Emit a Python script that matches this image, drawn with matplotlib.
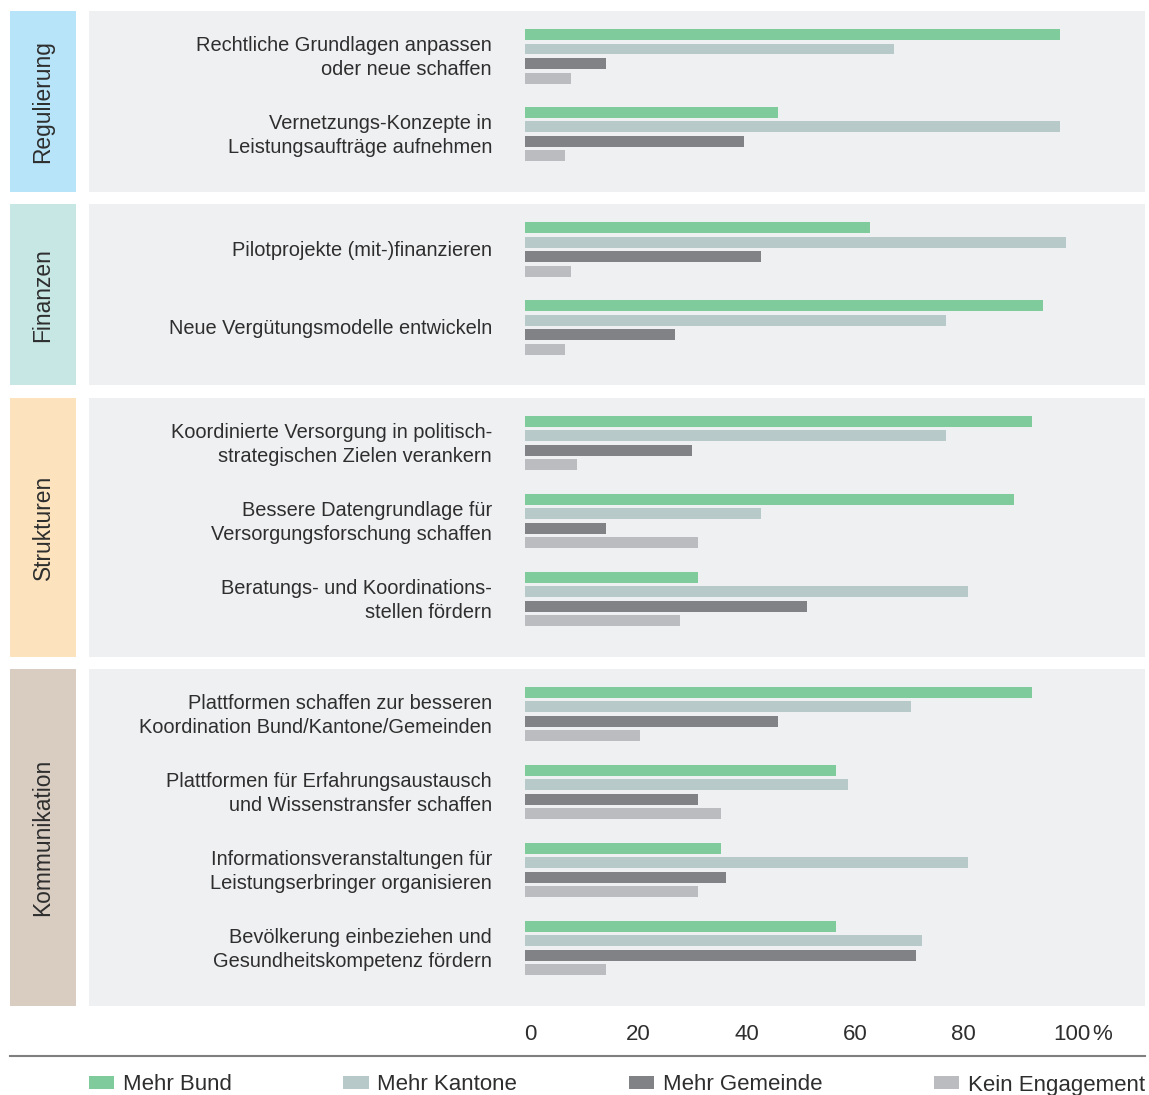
import matplotlib
matplotlib.use("Agg")
import matplotlib.pyplot as plt
from matplotlib.patches import Patch
from matplotlib.lines import Line2D

plt.rcParams["font.family"] = ["Liberation Sans", "DejaVu Sans"]
plt.rcParams["text.color"] = "#2e2e2e"

# Kategorien und Massnahmen
groups = ["Regulierung", "Finanzen", "Strukturen", "Kommunikation"]
group_colors = ["#b8e4f9", "#c6e7e3", "#fde3bd", "#d9cdc2"]

measures = [
    "Rechtliche Grundlagen anpassen\noder neue schaffen",
    "Vernetzungs-Konzepte in\nLeistungsaufträge aufnehmen",
    "Pilotprojekte (mit-)finanzieren",
    "Neue Vergütungsmodelle entwickeln",
    "Koordinierte Versorgung in politisch-\nstrategischen Zielen verankern",
    "Bessere Datengrundlage für\nVersorgungsforschung schaffen",
    "Beratungs- und Koordinations-\nstellen fördern",
    "Plattformen schaffen zur besseren\nKoordination Bund/Kantone/Gemeinden",
    "Plattformen für Erfahrungsaustausch\nund Wissenstransfer schaffen",
    "Informationsveranstaltungen für\nLeistungserbringer organisieren",
    "Bevölkerung einbeziehen und\nGesundheitskompetenz fördern",
]
measure_group = [0, 0, 1, 1, 2, 2, 2, 3, 3, 3, 3]

# Anteile in %
mehr_bund = [98.9, 46.8, 63.8, 95.7, 93.6, 90.4, 31.9, 93.6, 57.4, 36.2, 57.4]
mehr_kantone = [68.1, 98.9, 100.0, 77.7, 77.7, 43.6, 81.9, 71.3, 59.6, 81.9, 73.4]
mehr_gemeinde = [14.9, 40.4, 43.6, 27.7, 30.9, 14.9, 52.1, 46.8, 31.9, 37.2, 72.3]
kein_engagement = [8.5, 7.4, 8.5, 7.4, 9.6, 31.9, 28.7, 21.3, 36.2, 31.9, 14.9]

series_names = ["Mehr Bund", "Mehr Kantone", "Mehr Gemeinde", "Kein Engagement"]
series_colors = ["#80cb9b", "#b7c9c9", "#818285", "#bbbcc0"]
series_values = [mehr_bund, mehr_kantone, mehr_gemeinde, kein_engagement]

tick_values = [0, 20, 40, 60, 80, 100]
tick_labels = ["0", "20", "40", "60", "80", "100"]

# Layout in Pixeln
W, H = 1149, 1095
ZERO_X = 525
PX_PER_PCT = 5.414
PANEL_X0, PANEL_X1 = 89, 1145
XLIM = ((PANEL_X0 - ZERO_X) / PX_PER_PCT, (PANEL_X1 - ZERO_X) / PX_PER_PCT)
LABEL_X = (492 - ZERO_X) / PX_PER_PCT


def fig_rect(x0, y0, x1, y1):
    return [x0 / W, 1 - y1 / H, (x1 - x0) / W, (y1 - y0) / H]


def clean(ax):
    ax.set_xticks([])
    ax.set_yticks([])
    for s in ax.spines.values():
        s.set_visible(False)


fig = plt.figure(figsize=(W / 100, H / 100), dpi=100)

top = 11
for g, name in enumerate(groups):
    idx = [i for i in range(len(measures)) if measure_group[i] == g]
    h = len(idx) * 78 + 25

    box = fig.add_axes(fig_rect(10, top, 76, top + h))
    box.set_facecolor(group_colors[g])
    clean(box)
    box.text(0.5, 0.5, name, rotation=90, ha="center", va="center",
             fontsize=16.4, transform=box.transAxes)

    ax = fig.add_axes(fig_rect(PANEL_X0, top, PANEL_X1, top + h))
    ax.set_facecolor("#eff0f2")
    clean(ax)
    ax.set_xlim(*XLIM)
    ax.set_ylim(h, 0)
    for j, i in enumerate(idx):
        y0 = 18 + j * 78
        for k in range(4):
            ax.barh(y0 + k * 14.5 + 5.5, series_values[k][i], height=11,
                    color=series_colors[k], linewidth=0)
        ax.text(LABEL_X, y0 + 28.5, measures[i], ha="right", va="center",
                fontsize=14.4, linespacing=1.33)
    top += h + 12.3

# x-Achse
ax_x = fig.add_axes(fig_rect(PANEL_X0, 1018, PANEL_X1, 1050))
ax_x.set_xlim(*XLIM)
ax_x.axis("off")
for v, lab in zip(tick_values, tick_labels):
    ax_x.annotate(lab, (v, 0.5), xycoords=("data", "axes fraction"),
                  xytext=(3.6, 0), textcoords="offset points",
                  ha="center", va="center", fontsize=16)
ax_x.annotate("%", (100, 0.5), xycoords=("data", "axes fraction"),
              xytext=(18.5, 0), textcoords="offset points",
              ha="left", va="center", fontsize=16)

fig.add_artist(Line2D([10 / W, 1145 / W], [1 - 1056 / H] * 2,
                      color="#7f7f7f", lw=1.5))

handles = [Patch(facecolor=c, edgecolor="none") for c in series_colors]
fig.legend(handles, series_names, loc="center",
           bbox_to_anchor=(PANEL_X0 / W, 1 - 1100 / H,
                           (PANEL_X1 - PANEL_X0) / W, 30 / H),
           mode="expand", ncol=4, frameon=False, fontsize=16,
           handlelength=1.13, handleheight=0.5, handletextpad=0.4,
           borderpad=0, borderaxespad=0, columnspacing=1.0)

fig.savefig("out.png", dpi=100, facecolor="white")
